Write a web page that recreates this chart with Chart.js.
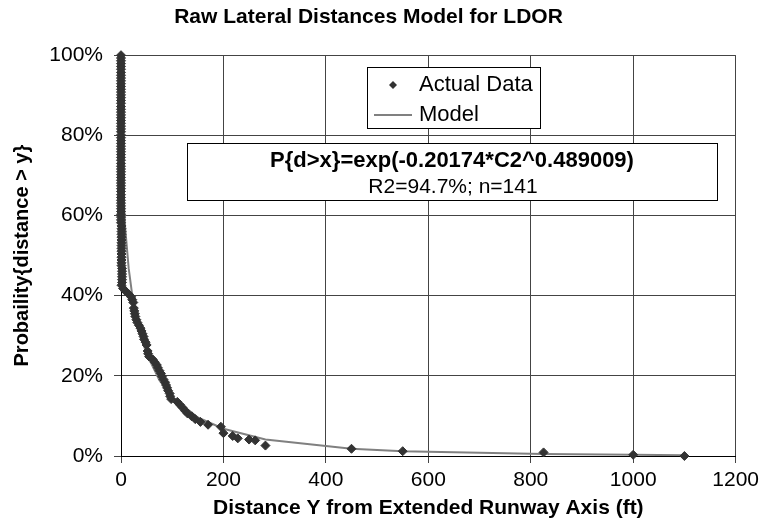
<!DOCTYPE html>
<html>
<head>
<meta charset="utf-8">
<script src="https://cdn.jsdelivr.net/npm/chart.js@4.4.1/dist/chart.umd.min.js"></script>
<style>
  html, body { margin: 0; padding: 0; background: #fff; }
</style>
</head>
<body>
<canvas id="ldorChart" width="764" height="527"></canvas>
<script>
// tick values
var xTicks = [0, 200, 400, 600, 800, 1000, 1200];
var yTicks = [0, 20, 40, 60, 80, 100];

// actual data: lateral distance (ft) and P{d>x} in %
var actualDistance = [
  0, 0, 0, 0, 0, 0, 0, 0, 0, 0, 0, 0, 0, 0, 0, 0, 0, 0, 0, 0,
  0, 0, 0, 0, 0, 0, 0, 0, 0, 0, 0, 0, 0, 0, 0, 0, 0, 0, 0, 0,
  0, 0, 0, 0, 0, 0, 0, 0, 0, 0, 0, 0, 0, 0, 0, 0, 0, 0, 0, 0,
  1, 1, 1, 1, 1, 1, 1, 1, 1, 1, 1, 1, 1, 1, 1, 2, 2, 2, 2, 2, 2,
  1, 4, 9, 15, 20, 22, 24, 25, 26, 27, 28, 30, 32, 35, 38, 40, 42, 44, 45, 48,
  50, 52, 53, 55, 62, 66, 70, 72, 75, 78, 80, 83, 86, 88, 90, 92, 95, 96, 98, 110,
  115, 120, 125, 130, 138, 145, 155, 170, 195, 200, 218, 228, 250, 262, 282, 450, 550, 825, 1000, 1100
];
var actualProb = [
  100.0, 99.3, 98.6, 97.9, 97.2, 96.5, 95.7, 95.0, 94.3, 93.6,
  92.9, 92.2, 91.5, 90.8, 90.1, 89.4, 88.7, 88.0, 87.2, 86.5,
  85.8, 85.1, 84.4, 83.7, 83.0, 82.3, 81.6, 80.9, 80.1, 79.4,
  78.7, 78.0, 77.3, 76.6, 75.9, 75.2, 74.5, 73.8, 73.0, 72.3,
  71.6, 70.9, 70.2, 69.5, 68.8, 68.1, 67.4, 66.7, 66.0, 65.2,
  64.5, 63.8, 63.1, 62.4, 61.7, 61.0, 60.3, 59.6, 58.9, 58.2,
  57.4, 56.7, 56.0, 55.3, 54.6, 53.9, 53.2, 52.5, 51.8, 51.1,
  50.4, 49.6, 48.9, 48.2, 47.5, 46.8, 46.1, 45.4, 44.7, 44.0, 43.3,
  42.6, 41.8, 41.1, 40.4, 39.7, 39.0, 38.3, 36.9, 36.2, 35.5, 34.8, 34.0, 33.3, 32.6, 31.9, 31.2, 30.5, 29.8, 29.1, 28.4,
  27.7, 26.2, 25.5, 24.8, 24.1, 23.4, 22.7, 22.0, 21.3, 20.6, 19.9, 19.1, 18.4, 17.7, 17.0, 16.3, 15.6, 14.9, 14.2, 13.5,
  12.8, 12.1, 11.3, 10.6, 9.9, 9.2, 8.5, 7.8, 7.3, 5.7, 5.0, 4.4, 4.1, 3.9, 2.6, 1.8, 1.2, 0.9, 0.3, 0.0
];

// model curve
var modelDistance = [0, 1, 3, 8, 15, 22, 30, 40, 50, 75, 100, 150, 200, 282, 450, 550, 825, 1000, 1100];
var modelProb = [100, 81.7, 70.8, 57.2, 46.8, 40.1, 34.5, 29.3, 25.5, 18.9, 14.7, 9.6, 6.8, 4.1, 1.8, 1.2, 0.5, 0.3, 0.2];

function toPoints(xs, ys) {
  var pts = [];
  for (var i = 0; i < xs.length; i++) pts.push({ x: xs[i], y: ys[i] });
  return pts;
}

var FONT = '"Liberation Sans", Arial, Helvetica, sans-serif';
Chart.defaults.font.family = FONT;
Chart.defaults.color = '#000';

// legend and equation box drawn inside the plot
var boxesPlugin = {
  id: 'boxes',
  afterDraw: function (chart) {
    var ctx = chart.ctx;
    ctx.save();
    ctx.lineWidth = 1;
    ctx.strokeStyle = '#000';
    ctx.fillStyle = '#fff';

    // legend
    ctx.fillRect(367.5, 67.5, 173, 61);
    ctx.strokeRect(367.5, 67.5, 173, 61);
    ctx.fillStyle = '#333';
    ctx.beginPath();
    ctx.moveTo(393, 81); ctx.lineTo(397, 85); ctx.lineTo(393, 89); ctx.lineTo(389, 85);
    ctx.closePath();
    ctx.fill();
    ctx.strokeStyle = '#808080';
    ctx.lineWidth = 2;
    ctx.beginPath();
    ctx.moveTo(374, 115); ctx.lineTo(412, 115);
    ctx.stroke();
    ctx.fillStyle = '#000';
    ctx.font = '22px ' + FONT;
    ctx.textAlign = 'left';
    ctx.textBaseline = 'middle';
    ctx.fillText('Actual Data', 419, 85);
    ctx.fillText('Model', 419, 115);

    // equation box
    ctx.lineWidth = 1;
    ctx.strokeStyle = '#000';
    ctx.fillStyle = '#fff';
    ctx.fillRect(187.5, 143.5, 530, 57);
    ctx.strokeRect(187.5, 143.5, 530, 57);
    ctx.fillStyle = '#000';
    ctx.textAlign = 'center';
    ctx.font = 'bold 22px ' + FONT;
    ctx.fillText('P{d>x}=exp(-0.20174*C2^0.489009)', 452, 161);
    ctx.font = '21px ' + FONT;
    ctx.fillText('R2=94.7%; n=141', 453, 187);
    ctx.restore();
  }
};

var ctx = document.getElementById('ldorChart').getContext('2d');
var ldorChart = new Chart(ctx, {
  type: 'scatter',
  data: {
    datasets: [{
      label: 'Actual Data',
      data: toPoints(actualDistance, actualProb),
      pointStyle: 'rectRot',
      pointRadius: 4.5,
      pointBackgroundColor: '#333',
      pointBorderColor: '#333',
      pointBorderWidth: 1,
      showLine: false,
      clip: false,
      order: 1
    }, {
      label: 'Model',
      data: toPoints(modelDistance, modelProb),
      showLine: true,
      borderColor: '#808080',
      borderWidth: 2,
      pointRadius: 0,
      tension: 0,
      order: 2
    }]
  },
  options: {
    responsive: false,
    animation: false,
    layout: { padding: { left: 0, right: 27, top: 0, bottom: 0 } },
    plugins: {
      legend: { display: false },
      tooltip: { enabled: false },
      title: {
        display: true,
        text: 'Raw Lateral Distances Model for LDOR',
        color: '#000',
        font: { size: 21, weight: 'bold' },
        padding: { top: 5, bottom: 25 }
      }
    },
    scales: {
      x: {
        type: 'linear',
        min: xTicks[0],
        max: xTicks[xTicks.length - 1],
        afterBuildTicks: function (s) { s.ticks = xTicks.map(function (v) { return { value: v }; }); },
        ticks: {
          color: '#000', font: { size: 21 }, padding: 5, maxRotation: 0,
          callback: function (v) { return String(v); }
        },
        grid: { color: '#444', lineWidth: 1, tickLength: 7 },
        border: { color: '#000', width: 1 },
        title: {
          display: true,
          text: 'Distance Y from Extended Runway Axis (ft)',
          color: '#000',
          font: { size: 21, weight: 'bold' },
          padding: { top: 0, bottom: 6 }
        },
        afterFit: function (s) { s.height = 71; }
      },
      y: {
        type: 'linear',
        min: yTicks[0],
        max: yTicks[yTicks.length - 1],
        afterBuildTicks: function (s) { s.ticks = yTicks.map(function (v) { return { value: v }; }); },
        ticks: {
          color: '#000', font: { size: 21 }, padding: 11,
          callback: function (v) { return v + '%'; }
        },
        grid: { color: '#444', lineWidth: 1, tickLength: 7 },
        border: { color: '#000', width: 1 },
        title: {
          display: true,
          text: 'Probaility{distance > y}',
          color: '#000',
          font: { size: 20, weight: 'bold' },
          padding: { top: 10, bottom: 4 }
        },
        afterFit: function (s) { s.width = 121; }
      }
    }
  },
  plugins: [boxesPlugin]
});
</script>
</body>
</html>
